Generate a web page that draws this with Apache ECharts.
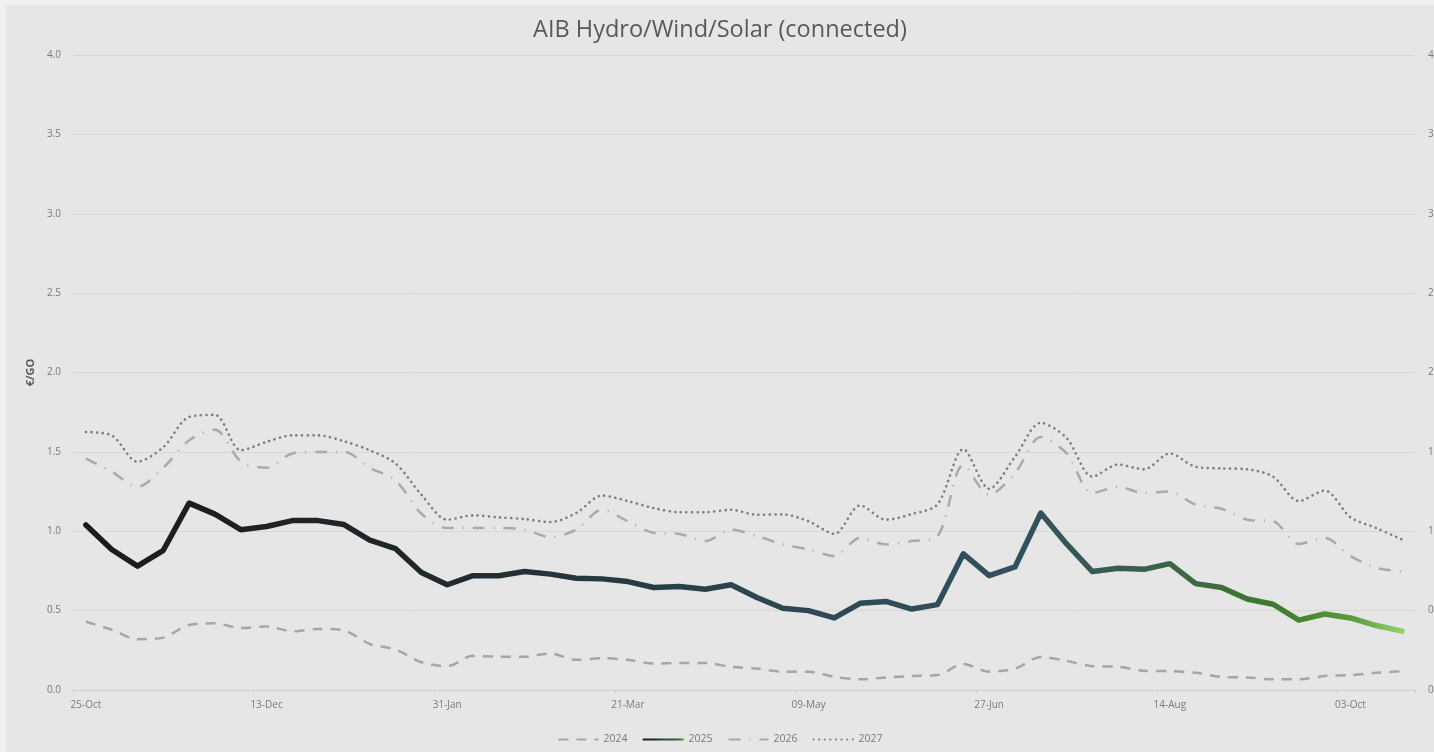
<!DOCTYPE html>
<html>
<head>
<meta charset="utf-8">
<script src="https://cdn.jsdelivr.net/npm/echarts@6/dist/echarts.min.js"></script>
<style>
html,body{margin:0;padding:0;background:#f0f0f0;overflow:hidden;}
#chart{position:absolute;left:6px;top:5px;width:1428px;height:747px;}
</style>
</head>
<body>
<div id="chart"></div>
<script>
const categories = ['25-Oct','01-Nov','08-Nov','15-Nov','22-Nov','29-Nov','06-Dec','13-Dec','20-Dec','27-Dec','03-Jan','10-Jan','17-Jan','24-Jan','31-Jan','07-Feb','14-Feb','21-Feb','28-Feb','07-Mar','14-Mar','21-Mar','28-Mar','04-Apr','11-Apr','17-Apr','25-Apr','02-May','09-May','16-May','23-May','30-May','06-Jun','13-Jun','20-Jun','27-Jun','04-Jul','11-Jul','18-Jul','25-Jul','01-Aug','08-Aug','14-Aug','22-Aug','29-Aug','05-Sep','12-Sep','19-Sep','26-Sep','03-Oct','10-Oct','17-Oct'];
const seriesNames = ['2024','2025','2026','2027'];
const values2024 = [0.43,0.38,0.32,0.33,0.41,0.42,0.39,0.40,0.37,0.385,0.375,0.29,0.255,0.175,0.15,0.215,0.21,0.21,0.23,0.19,0.20,0.19,0.167,0.17,0.17,0.146,0.135,0.115,0.115,0.083,0.067,0.079,0.088,0.094,0.163,0.115,0.135,0.208,0.183,0.15,0.146,0.121,0.119,0.108,0.083,0.079,0.067,0.067,0.088,0.094,0.108,0.119];
const values2025 = [1.04,0.885,0.78,0.88,1.177,1.108,1.01,1.03,1.067,1.067,1.042,0.944,0.89,0.74,0.663,0.72,0.72,0.746,0.73,0.704,0.70,0.683,0.646,0.652,0.635,0.663,0.583,0.515,0.50,0.454,0.546,0.558,0.51,0.538,0.858,0.72,0.775,1.115,0.92,0.746,0.767,0.76,0.796,0.67,0.646,0.573,0.54,0.44,0.479,0.454,0.406,0.371];
const values2026 = [1.458,1.375,1.28,1.40,1.573,1.64,1.44,1.40,1.49,1.50,1.50,1.40,1.32,1.11,1.02,1.02,1.02,1.01,0.963,1.01,1.135,1.063,0.99,0.983,0.938,1.01,0.97,0.918,0.885,0.844,0.958,0.917,0.938,0.969,1.417,1.23,1.365,1.594,1.49,1.24,1.28,1.24,1.25,1.167,1.142,1.073,1.063,0.92,0.958,0.844,0.77,0.746];
const values2027 = [1.625,1.604,1.438,1.53,1.72,1.733,1.51,1.563,1.604,1.604,1.567,1.51,1.427,1.23,1.073,1.10,1.088,1.077,1.058,1.115,1.225,1.19,1.146,1.12,1.12,1.135,1.104,1.106,1.063,0.983,1.163,1.073,1.108,1.17,1.517,1.267,1.469,1.683,1.588,1.344,1.42,1.39,1.49,1.406,1.396,1.39,1.344,1.19,1.256,1.088,1.02,0.948];
const yTicks = [0, 0.5, 1.0, 1.5, 2.0, 2.5, 3.0, 3.5, 4.0];

const chart = echarts.init(document.getElementById('chart'), null, {renderer:'canvas'});
const labelFont = 'Open Sans';
const yAxisBase = {
  type:'value', min:yTicks[0], max:yTicks[yTicks.length-1], interval:yTicks[1]-yTicks[0],
  axisLine:{show:false}, axisTick:{show:false},
  axisLabel:{color:'#7a7a7a', fontSize:10, fontFamily:labelFont, margin:12, formatter:v=>v.toFixed(1)},
  splitLine:{lineStyle:{color:'#d8d8d8', width:1}}
};
const grad = new echarts.graphic.LinearGradient(0,0,1,0,[
  {offset:0, color:'#1b1b1b'},
  {offset:0.25, color:'#1f272b'},
  {offset:0.5, color:'#2c4550'},
  {offset:0.72, color:'#33525e'},
  {offset:0.8, color:'#3a5e4c'},
  {offset:0.9, color:'#3f7a2e'},
  {offset:0.96, color:'#5a9a3a'},
  {offset:1, color:'#96d46e'}
]);
chart.setOption({
  backgroundColor:'#e6e6e6',
  animation:false,
  title:{text:'AIB Hydro/Wind/Solar (connected)', left:'center', top:8, padding:[5,0,5,32],
    textStyle:{color:'#595959', fontSize:23.5, fontWeight:'normal', fontFamily:labelFont}},
  legend:{bottom:2, left:'center', itemWidth:40, itemHeight:10, itemGap:15, padding:[5,5,5,15],
    itemStyle:{opacity:0},
    textStyle:{color:'#7a7a7a', fontSize:10.5, fontFamily:labelFont},
    data:seriesNames},
  grid:{left:67, right:19, top:50, bottom:62, outerBoundsMode:'none', containLabel:false},
  xAxis:{type:'category', data:categories, boundaryGap:true,
    axisLine:{lineStyle:{color:'#d0d0d0'}},
    axisTick:{show:true, length:4, lineStyle:{color:'#d0d0d0'}},
    axisLabel:{color:'#7a7a7a', fontSize:10, fontFamily:labelFont, margin:10,
      interval:(i)=>i%7===0}},
  yAxis:[
    Object.assign({}, yAxisBase, {position:'left', name:'€/GO', nameLocation:'middle', nameGap:35, nameRotate:90,
      nameTextStyle:{color:'#595959', fontSize:11, fontWeight:'bold', fontFamily:labelFont}}),
    Object.assign({}, yAxisBase, {position:'right', splitLine:{show:false}, axisLabel:Object.assign({}, yAxisBase.axisLabel, {margin:13})})
  ],
  series:[
    {name:'2024', type:'line', data:values2024, symbol:'none', smooth:0.3,
      lineStyle:{color:'#a6a6a6', width:2.5, type:[10,8]}, itemStyle:{color:'#a6a6a6'}},
    {name:'2025', type:'line', data:values2025, symbol:'none', z:5,
      lineStyle:{color:grad, width:5.5, join:'round', cap:'round'}, itemStyle:{color:'#2c4550'}},
    {name:'2026', type:'line', data:values2026, symbol:'none', smooth:0.3,
      lineStyle:{color:'#aaaaaa', width:2.5, type:[12,9,1,9]}, itemStyle:{color:'#aaaaaa'}},
    {name:'2027', type:'line', data:values2027, symbol:'none', smooth:0.3,
      lineStyle:{color:'#7d7d7d', width:2.6, type:[0.1,5.5], cap:'round'}, itemStyle:{color:'#7d7d7d'}}
  ]
});
</script>
</body>
</html>
